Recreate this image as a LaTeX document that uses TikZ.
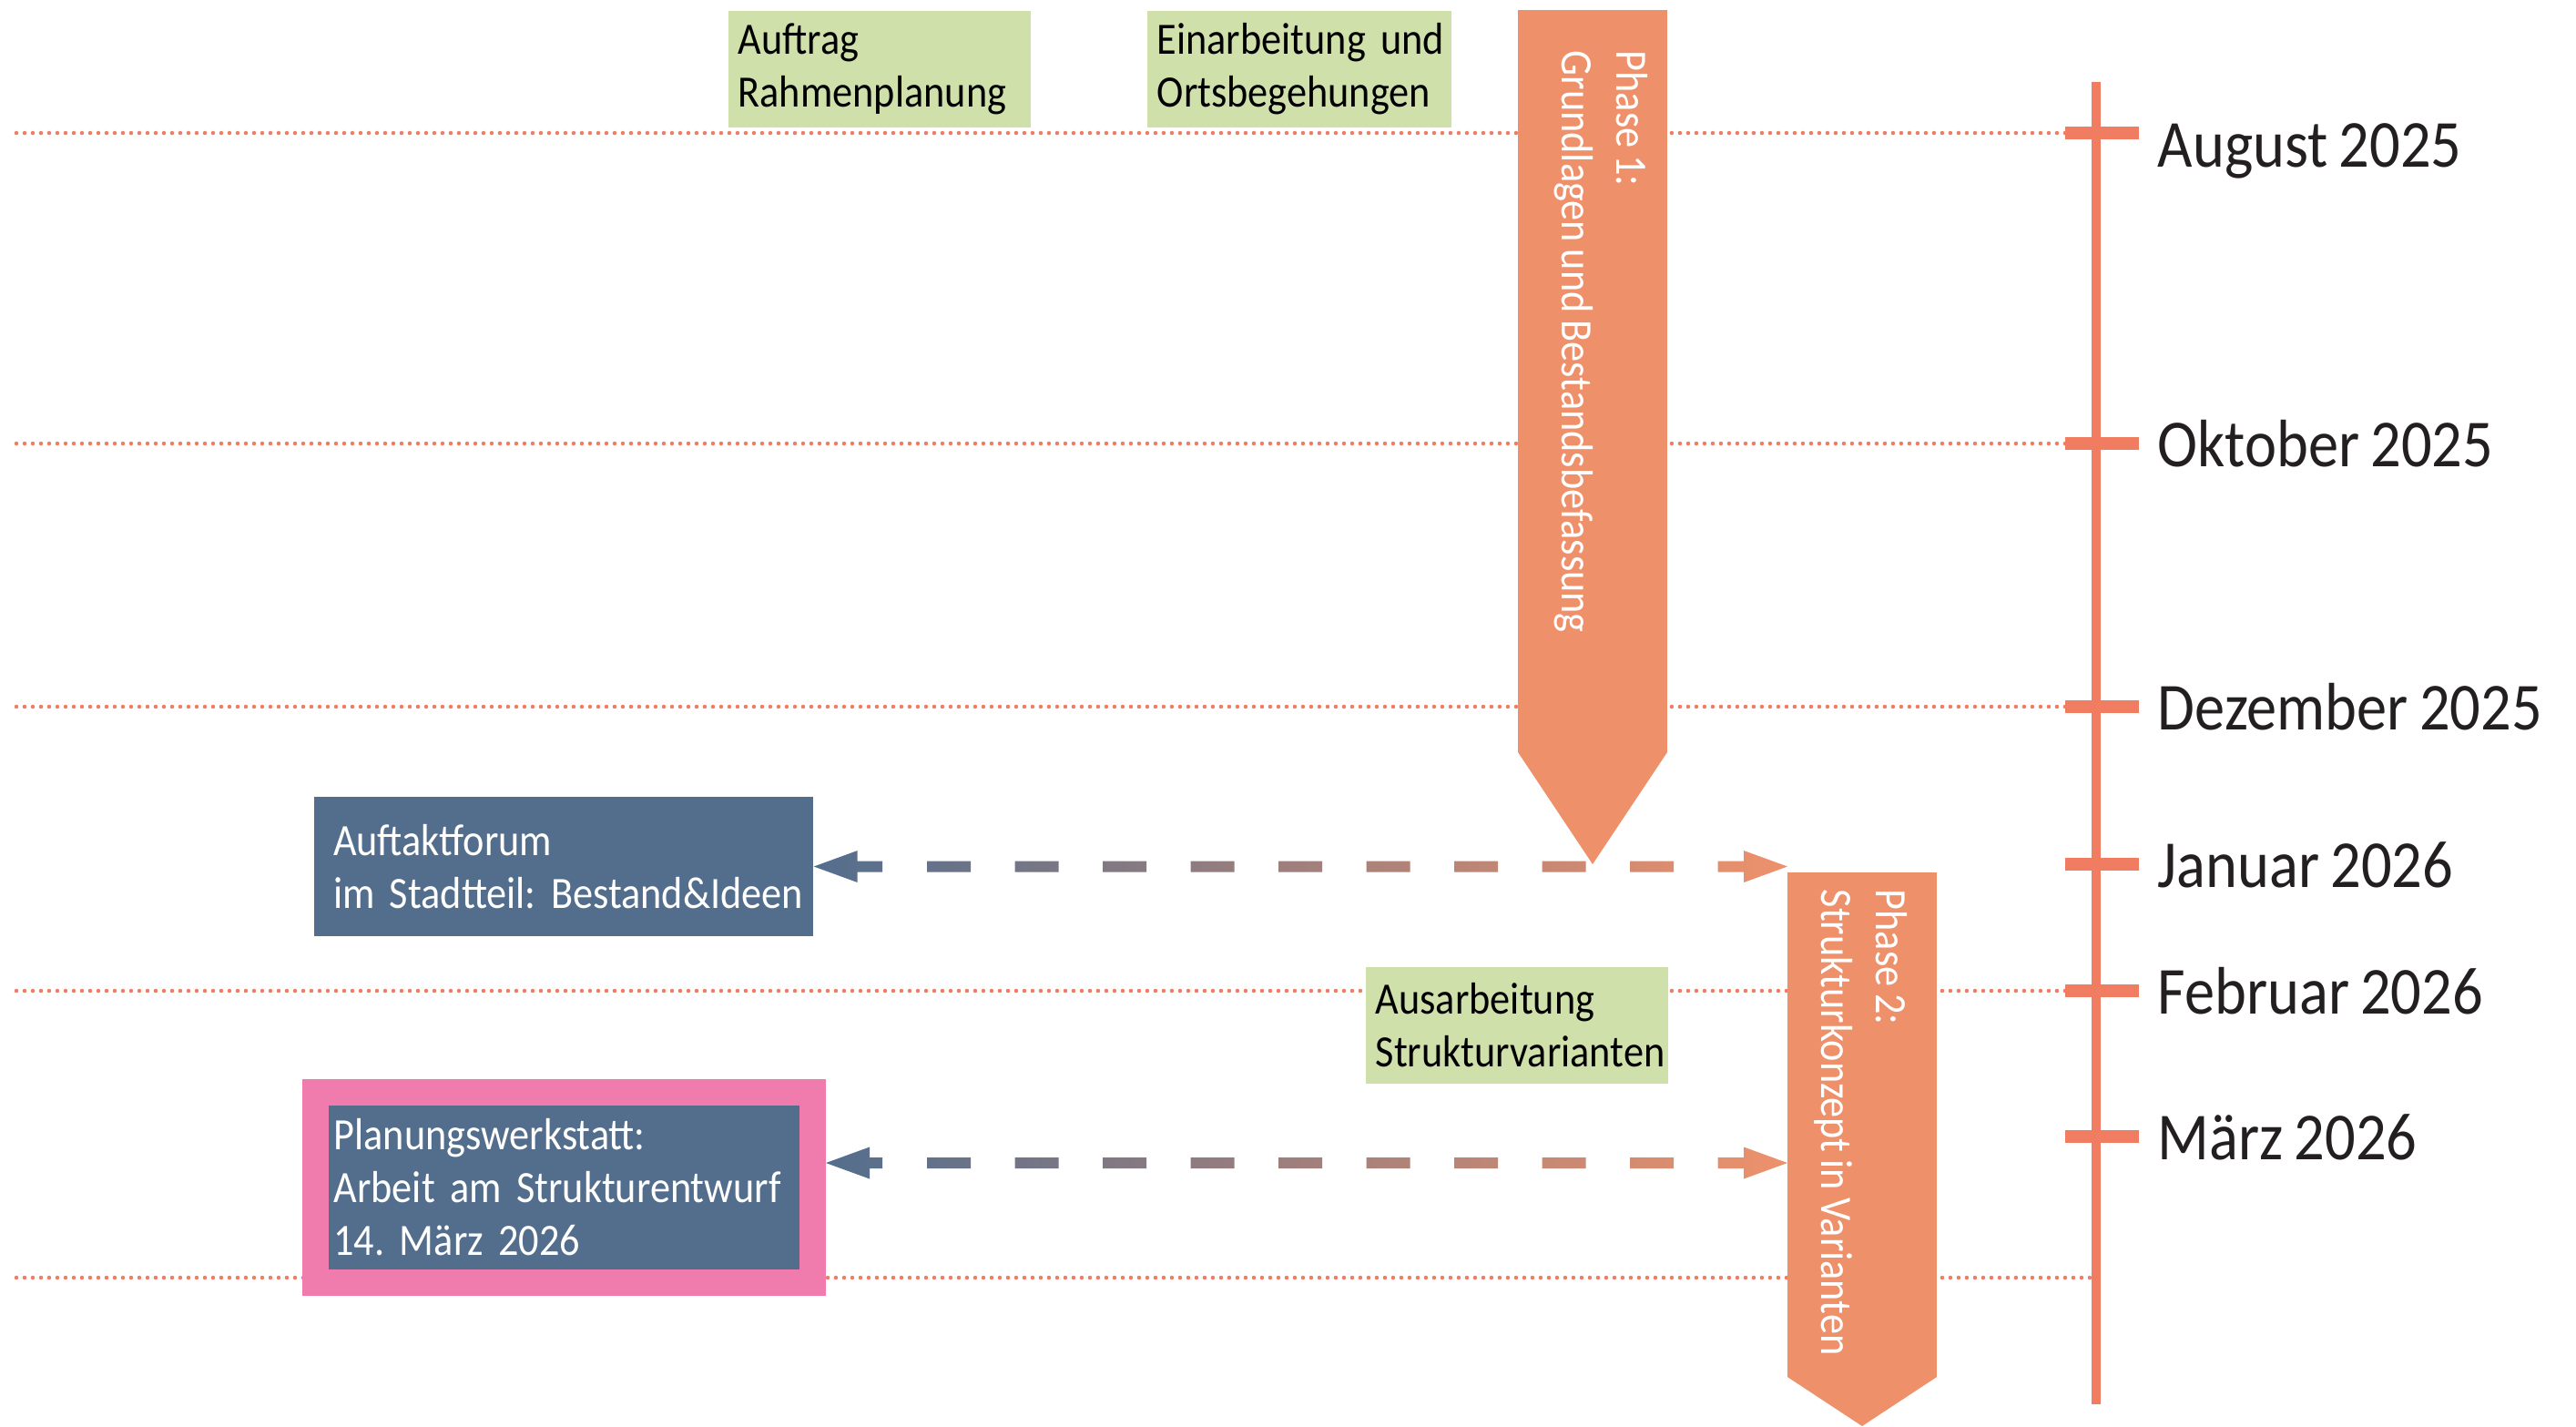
\documentclass[tikz,border=0pt]{standalone}
\usepackage{fontspec}
\setmainfont{Carlito}[FakeStretch=0.9, WordSpace=0.8]
\usetikzlibrary{calc}
\frenchspacing

\definecolor{gruen}{HTML}{D0E0AA}
\definecolor{blau}{HTML}{536E8D}
\definecolor{rosa}{HTML}{F07CAE}
\definecolor{phasefarbe}{HTML}{EE916B}
\definecolor{zeitfarbe}{HTML}{F07D62}
\definecolor{schrift}{HTML}{231F20}

\tikzset{
    gruenbox/.style={fill=gruen, text=black, align=left, anchor=north west, inner xsep=0.11cm, inner ysep=0pt, minimum height=1.28cm, font=\fontsize{14}{16.5}\selectfont},
    blaubox/.style={fill=blau, text=white, align=left, inner ysep=0pt, font=\fontsize{14}{16.5}\selectfont},
    phasekoerper/.style={fill=phasefarbe, minimum width=1.64cm, inner sep=0pt, outer sep=0pt},
    phasetext/.style={rotate=-90, anchor=north west, align=left, text=white, inner sep=0pt, font=\fontsize{14}{17}\selectfont},
    punktlinie/.style={zeitfarbe, line width=0.045cm, dash pattern=on 0pt off 0.09cm, line cap=round},
    strich/.style={zeitfarbe, line width=0.14cm},
    monat/.style={anchor=base west, text=schrift, inner sep=0pt, font=\fontsize{21}{25}\selectfont}
}

\begin{document}
\begin{tikzpicture}
    \useasboundingbox (0,0) rectangle (28.29,-15.66);
    % Hilfslinien
    \foreach \y in {1.46,4.87,7.76,10.88}
        \draw[punktlinie] (0.18,-\y) -- (22.68,-\y);
    \draw[punktlinie] (0.18,-14.03) -- (22.95,-14.03);

    % Zeitleiste
    \draw[zeitfarbe, line width=0.10cm] (23.02,-0.90) -- (23.02,-15.42);
    \foreach \y/\dy/\monat [count=\i] in {1.46/0.37/August 2025, 4.87/0.25/Oktober 2025, 7.76/0.25/Dezember 2025, 9.49/0.25/Januar 2026, 10.88/0.25/Februar 2026, 12.48/0.25/März 2026}{
        \draw[strich] (22.68,-\y) -- (23.49,-\y);
        \node[monat] (monat\i) at (23.69,-\y-\dy) {\monat};
    }

    \node[gruenbox, text width=3.10cm] (auftrag) at (7.99,-0.11) {Auftrag\\Rahmenplanung};
    \node[gruenbox, text width=3.12cm] (einarbeitung) at (12.59,-0.11) {\mbox{Einarbeitung und}\\Ortsbegehungen};
    \node[gruenbox, text width=3.10cm] (ausarbeitung) at (14.99,-10.61) {Ausarbeitung\\Strukturvarianten};

    \node[blaubox, inner xsep=0.21cm, text width=5.06cm, minimum height=1.53cm] (auftakt) at (6.19,-9.515) {Auftaktforum\\\mbox{im Stadtteil: Bestand\&Ideen}};
    \node[blaubox, draw=rosa, line width=0.29cm, outer sep=0.145cm, inner xsep=0.20cm, text width=5.06cm, minimum height=2.09cm] (werkstatt) at (6.195,-13.04) {Planungswerkstatt:\\\mbox{Arbeit am Strukturentwurf}\\14. März 2026};

    % Phasen
    \node[phasekoerper, minimum height=8.15cm] (phaseeins) at (17.49,-4.185) {};
    \fill[phasefarbe] (phaseeins.south west) -- (phaseeins.south east) -- ($(phaseeins.south)+(0,-1.23)$) -- cycle;
    \node[phasetext] (phaseeinstext) at (18.10,-0.55) {Phase 1:\\Grundlagen und Bestandsbefassung};

    \node[phasekoerper, minimum height=5.54cm] (phasezwei) at (20.45,-12.35) {};
    \fill[phasefarbe] (phasezwei.south west) -- (phasezwei.south east) -- ($(phasezwei.south)+(0,-0.54)$) -- cycle;
    \node[phasetext] (phasezweitext) at (20.95,-9.76) {Phase 2:\\Strukturkonzept in Varianten};

    % gestrichelte Pfeile mit Farbverlauf
    \coordinate (p1a) at (auftakt.east);
    \coordinate (p1b) at (auftakt.east -| phasezwei.west);
    \shade[left color=blau, right color=phasefarbe]
        (p1a) -- ++(0.48,0.175) -- ++(0,-0.115) -- ($(p1b)+(-9.94,0.06)$) -- ++(0,-0.12) -- ($(p1a)+(0.48,-0.06)$) -- ++(0,-0.115) -- cycle
        \foreach \k in {0,...,8}{ ($(p1b)+(-9.45+0.965*\k,-0.06)$) rectangle ++(0.48,0.12) }
        (p1b) -- ++(-0.48,0.175) -- ++(0,-0.115) -- ++(-0.285,0) -- ++(0,-0.12) -- ++(0.285,0) -- ++(0,-0.115) -- cycle;

    \coordinate (p2a) at ([yshift=2.7mm]werkstatt.east);
    \coordinate (p2b) at (p2a -| phasezwei.west);
    \shade[left color=blau, right color=phasefarbe]
        (p2a) -- ++(0.48,0.175) -- ++(0,-0.115) -- ($(p2b)+(-9.94,0.06)$) -- ++(0,-0.12) -- ($(p2a)+(0.48,-0.06)$) -- ++(0,-0.115) -- cycle
        \foreach \k in {0,...,8}{ ($(p2b)+(-9.45+0.965*\k,-0.06)$) rectangle ++(0.48,0.12) }
        (p2b) -- ++(-0.48,0.175) -- ++(0,-0.115) -- ++(-0.285,0) -- ++(0,-0.12) -- ++(0.285,0) -- ++(0,-0.115) -- cycle;
\end{tikzpicture}
\end{document}
